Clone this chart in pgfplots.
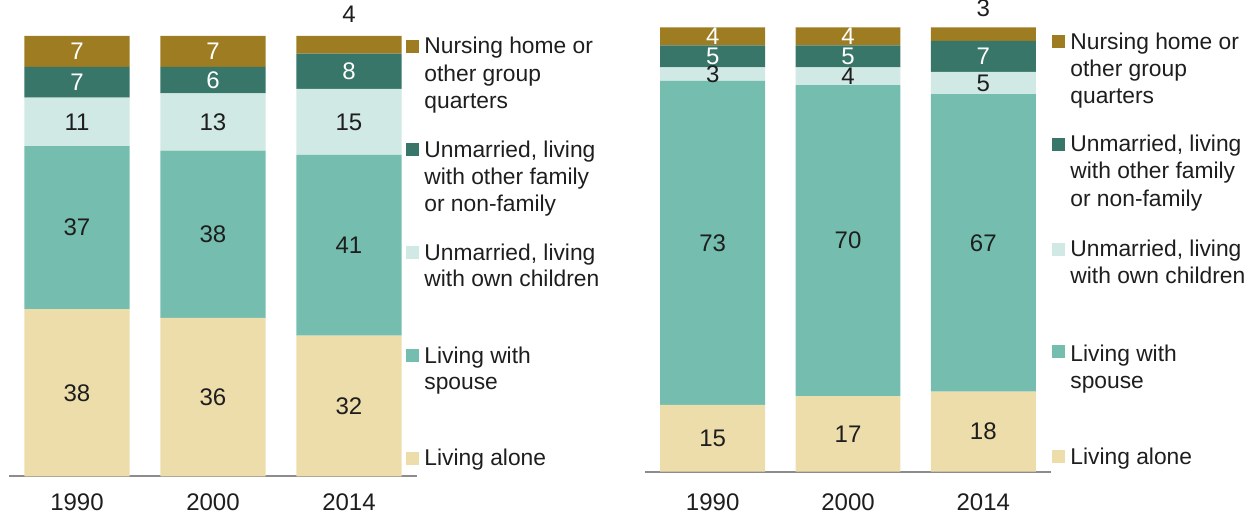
\documentclass[border=0pt]{standalone}
\usepackage{pgfplots}
\usepackage{pgfplotstable}
\pgfplotsset{compat=1.18}
\usepackage{fontspec}
\setmainfont{Liberation Sans}
\definecolor{nurs}{RGB}{158,124,34}
\definecolor{other}{RGB}{55,118,104}
\definecolor{own}{RGB}{208,233,228}
\definecolor{spouse}{RGB}{117,190,175}
\definecolor{alone}{RGB}{237,221,170}
\definecolor{axisgray}{RGB}{140,140,140}
\definecolor{txt}{RGB}{30,30,30}

\pgfplotstableread{
x alone spouse own other nurs
0 38 37 11 7 7
1 36 38 13 6 7
2 32 41 15 8 4
}\leftdata
\pgfplotstableread{
x alone spouse own other nurs
0 15 73 3 5 4
1 17 70 4 5 4
2 18 67 5 7 3
}\rightdata
% label positions (segment centres) and values
\pgfplotstableread{
x y t
0 19 38
0 56.5 37
0 80.5 11
1 18 36
1 55 38
1 80.5 13
2 16 32
2 52.5 41
2 80.5 15
2 105 4
}\leftdark
\pgfplotstableread{
x y t
0 89.5 7
0 96.5 7
1 90 6
1 96.5 7
2 92 8
}\leftwhite
\pgfplotstableread{
x y t
0 7.5 15
0 51.5 73
0 89.5 3
1 8.5 17
1 52 70
1 89 4
2 9 18
2 51.5 67
2 87.5 5
2 104.4 3
}\rightdark
\pgfplotstableread{
x y t
0 93.5 5
0 98 4
1 93.5 5
1 98 4
2 93.5 7
}\rightwhite

\pgfplotsset{
geom/.style={ymin=0, ymax=100, xmin=-0.5, xmax=2.5, scale only axis,
  clip=false, anchor=south west},
mystack/.style={geom,
  ybar stacked, bar width=0.775,
  axis x line*=bottom, axis y line=none,
  xtick={0,1,2}, xticklabels={1990,2000,2014}, major tick length=0,
  xticklabel style={anchor=base, text=txt, font=\fontsize{12}{14}\selectfont},
  x axis line style={draw=axisgray, line width=1pt},
},
labaxis/.style={geom, hide axis},
labplot/.style={draw=none, mark=none, nodes near coords,
  point meta=explicit symbolic,
  nodes near coords style={anchor=center, inner sep=0pt, font=\fontsize{12}{14}\selectfont, text=#1}},
}
\newcommand\lt[3]{\node[anchor=base west, inner sep=0pt, text=txt, font=\fontsize{11.4}{13}\selectfont] at (#1pt,#2pt) {#3};}

\begin{document}
\begin{tikzpicture}
\useasboundingbox (0,0) rectangle (626.5pt,257pt);
% left chart
\begin{axis}[mystack, at={(4.5pt,18.75pt)}, width=204pt, height=220.25pt,
  xticklabel style={yshift=-16.75pt}]
\addplot[fill=alone, draw=none] table[x=x,y=alone]{\leftdata};
\addplot[fill=spouse, draw=none] table[x=x,y=spouse]{\leftdata};
\addplot[fill=own, draw=none] table[x=x,y=own]{\leftdata};
\addplot[fill=other, draw=none] table[x=x,y=other]{\leftdata};
\addplot[fill=nurs, draw=none] table[x=x,y=nurs]{\leftdata};
\end{axis}
\begin{axis}[labaxis, at={(4.5pt,18.75pt)}, width=204pt, height=220.25pt]
\addplot[labplot=txt] table[x=x,y=y,meta=t]{\leftdark};
\addplot[labplot=white] table[x=x,y=y,meta=t]{\leftwhite};
\end{axis}
% right chart
\begin{axis}[mystack, at={(322.5pt,21.25pt)}, width=203pt, height=222pt,
  xticklabel style={yshift=-19.25pt}]
\addplot[fill=alone, draw=none] table[x=x,y=alone]{\rightdata};
\addplot[fill=spouse, draw=none] table[x=x,y=spouse]{\rightdata};
\addplot[fill=own, draw=none] table[x=x,y=own]{\rightdata};
\addplot[fill=other, draw=none] table[x=x,y=other]{\rightdata};
\addplot[fill=nurs, draw=none] table[x=x,y=nurs]{\rightdata};
\end{axis}
\begin{axis}[labaxis, at={(322.5pt,21.25pt)}, width=203pt, height=222pt]
\addplot[labplot=txt] table[x=x,y=y,meta=t]{\rightdark};
\addplot[labplot=white] table[x=x,y=y,meta=t]{\rightwhite};
\end{axis}
% left legend
\fill[nurs] (203pt,230.5pt) rectangle (209.5pt,237pt);
\fill[other] (203pt,178.75pt) rectangle (209.5pt,185.25pt);
\fill[own] (203pt,127.25pt) rectangle (209.5pt,133.75pt);
\fill[spouse] (203pt,76pt) rectangle (209.5pt,82.5pt);
\fill[alone] (203pt,24.5pt) rectangle (209.5pt,31pt);
\lt{212}{230}{Nursing home or}
\lt{212}{216.25}{other group}
\lt{212}{202.75}{quarters}
\lt{212}{178.25}{Unmarried, living}
\lt{212}{164.5}{with other family}
\lt{212}{151}{or non-family}
\lt{212}{126.75}{Unmarried, living}
\lt{212}{113.5}{with own children}
\lt{212}{75.25}{Living with}
\lt{212}{62}{spouse}
\lt{212}{24.25}{Living alone}
% right legend
\fill[nurs] (526pt,232.9pt) rectangle (532.5pt,239.4pt);
\fill[other] (526pt,181.25pt) rectangle (532.5pt,187.75pt);
\fill[own] (526pt,129pt) rectangle (532.5pt,135.5pt);
\fill[spouse] (526pt,77.75pt) rectangle (532.5pt,84.25pt);
\fill[alone] (526pt,25.4pt) rectangle (532.5pt,31.9pt);
\lt{535}{232}{Nursing home or}
\lt{535}{218.5}{other group}
\lt{535}{205.25}{quarters}
\lt{535}{181}{Unmarried, living}
\lt{535}{167.5}{with other family}
\lt{535}{153.75}{or non-family}
\lt{535}{128.75}{Unmarried, living}
\lt{535}{115}{with own children}
\lt{535}{76.25}{Living with}
\lt{535}{62.75}{spouse}
\lt{535}{24.5}{Living alone}
\end{tikzpicture}
\end{document}
